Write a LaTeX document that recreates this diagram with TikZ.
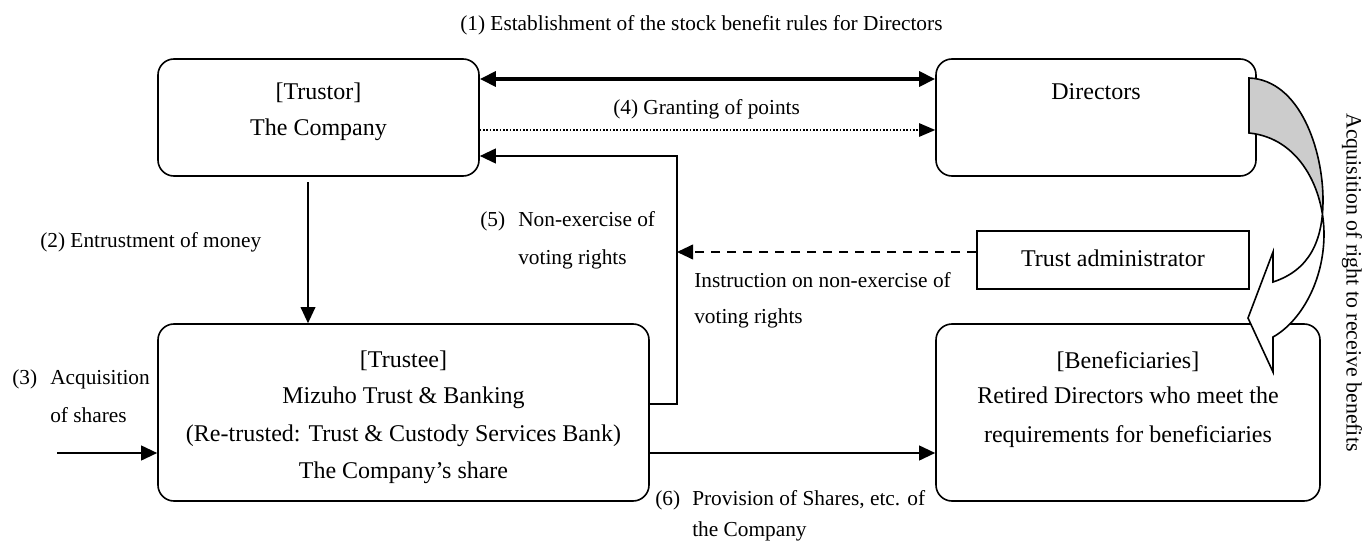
\documentclass[tikz,border=0pt]{standalone}
\usepackage{fontspec}
\setmainfont{Liberation Serif}
\usetikzlibrary{arrows.meta}
\newcommand{\myCurvedPath}{(1249,78) .. controls (1300,80) and (1323,150) .. (1323,200) .. controls (1323,240) and (1310,270) .. (1273,282) -- (1273,252) -- (1248,318) -- (1273,372) -- (1273,337) .. controls (1300,322) and (1324,282) .. (1324,234) .. controls (1324,190) and (1300,138) .. (1249,133) -- cycle}
\begin{document}
\begin{tikzpicture}[x=0.75pt,y=-0.75pt,
  box/.style={draw,line width=1.2pt,rounded corners=12pt,inner sep=0pt},
  sqbox/.style={draw,line width=1.2pt,inner sep=0pt},
  lbl/.style={font=\fontsize{16}{19}\selectfont,inner sep=0pt,anchor=base west},
  btxt/.style={font=\fontsize{18}{22}\selectfont,inner sep=0pt,anchor=base},
  arr/.style={line width=1.5pt,-{Triangle[length=12pt,width=11pt]}},
]
\useasboundingbox (0,0) rectangle (1365,542);

% boxes
\node[box,minimum width=240.75pt,minimum height=87.75pt] (trustor) at (318.5,117.5) {};
\node[box,minimum width=240pt,minimum height=87.75pt] (directors) at (1096,117.5) {};
\node[box,minimum width=368.25pt,minimum height=132.75pt] (trustee) at (403.5,412.5) {};
\node[box,minimum width=288pt,minimum height=132.75pt] (ben) at (1128,412.5) {};
\node[sqbox,minimum width=204pt,minimum height=43.5pt] (ta) at (1113,260) {};

% box texts
\node[btxt] (t1) at (318.5,100) {[Trustor]};
\node[btxt] (t2) at (318.5,136) {The Company};
\node[btxt] (d1) at (1096,99) {Directors};
\node[btxt] (a1) at (1113,266) {Trust administrator};
\node[btxt] (e1) at (403.5,367) {[Trustee]};
\node[btxt] (e2) at (403.5,403) {Mizuho Trust \& Banking};
\node[btxt] (e3) at (403.5,441) {(Re-trusted: Trust \& Custody Services Bank)};
\node[btxt] (e4) at (403.5,478) {The Company’s share};
\node[btxt] (b1) at (1128,368) {[Beneficiaries]};
\node[btxt] (b2) at (1128,403) {Retired Directors who meet the};
\node[btxt] (b3) at (1128,442) {requirements for beneficiaries};

% coordinates
\coordinate (y79) at (0,79);
\coordinate (y130) at (0,130);
\coordinate (c5top) at (677,156);
\coordinate (c5bot) at (677,404);
\coordinate (vdash) at (677,252);
\coordinate (y252) at (0,252);
\coordinate (top2) at (308,182);
\coordinate (in3) at (57,453);
\coordinate (y453) at (0,453);

% connectors
\draw[line width=3pt,{Triangle[length=12pt,width=11pt]}-{Triangle[length=12pt,width=11pt]}] (trustor.east |- y79) -- (directors.west |- y79);
\draw[line width=1pt,dash pattern=on 1.2pt off 1.3pt,-{Triangle[length=12pt,width=10pt]}] (trustor.east |- y130) -- (directors.west |- y130);
\draw[arr] (trustee.east |- c5bot) -- (c5bot) -- (c5top) -- (trustor.east |- c5top);
\draw[arr,dash pattern=on 7pt off 5pt] (ta.west |- y252) -- (vdash);
\draw[arr,line width=1pt] (top2) -- (trustee.north -| top2);
\draw[arr] (in3) -- (trustee.west |- in3);
\draw[arr] (trustee.east |- y453) -- (ben.west |- y453);

% labels
\node[lbl] (l1) at (460,31) {(1) Establishment of the stock benefit rules for Directors};
\node[lbl] (l4) at (613,114) {(4) Granting of points};
\node[lbl] (l2) at (40,247) {(2) Entrustment of money};
\node[lbl] (l5a) at (480,226) {(5)};
\node[lbl] (l5b) at (518,226) {Non-exercise of};
\node[lbl] (l5c) at (518,264) {voting rights};
\node[lbl] (li1) at (694,287) {Instruction on non-exercise of};
\node[lbl] (li2) at (694,323) {voting rights};
\node[lbl] (l3a) at (12,384) {(3)};
\node[lbl] (l3b) at (50,384) {Acquisition};
\node[lbl] (l3c) at (50,422) {of shares};
\node[lbl] (l6a) at (655,505) {(6)};
\node[lbl] (l6b) at (692,505) {Provision of Shares, etc. of};
\node[lbl] (l6c) at (692,536) {the Company};

% curved block arrow
\fill[white] \myCurvedPath;
\begin{scope}
  \clip (1200,0) rectangle (1365,212);
  \fill[gray!40] \myCurvedPath;
\end{scope}
\draw[line width=1.2pt,line join=miter] \myCurvedPath;

\node[font=\fontsize{16.4}{20}\selectfont,rotate=-90,inner sep=0pt] (acq) at (1352,282.5) {Acquisition of right to receive benefits};
\end{tikzpicture}
\end{document}
